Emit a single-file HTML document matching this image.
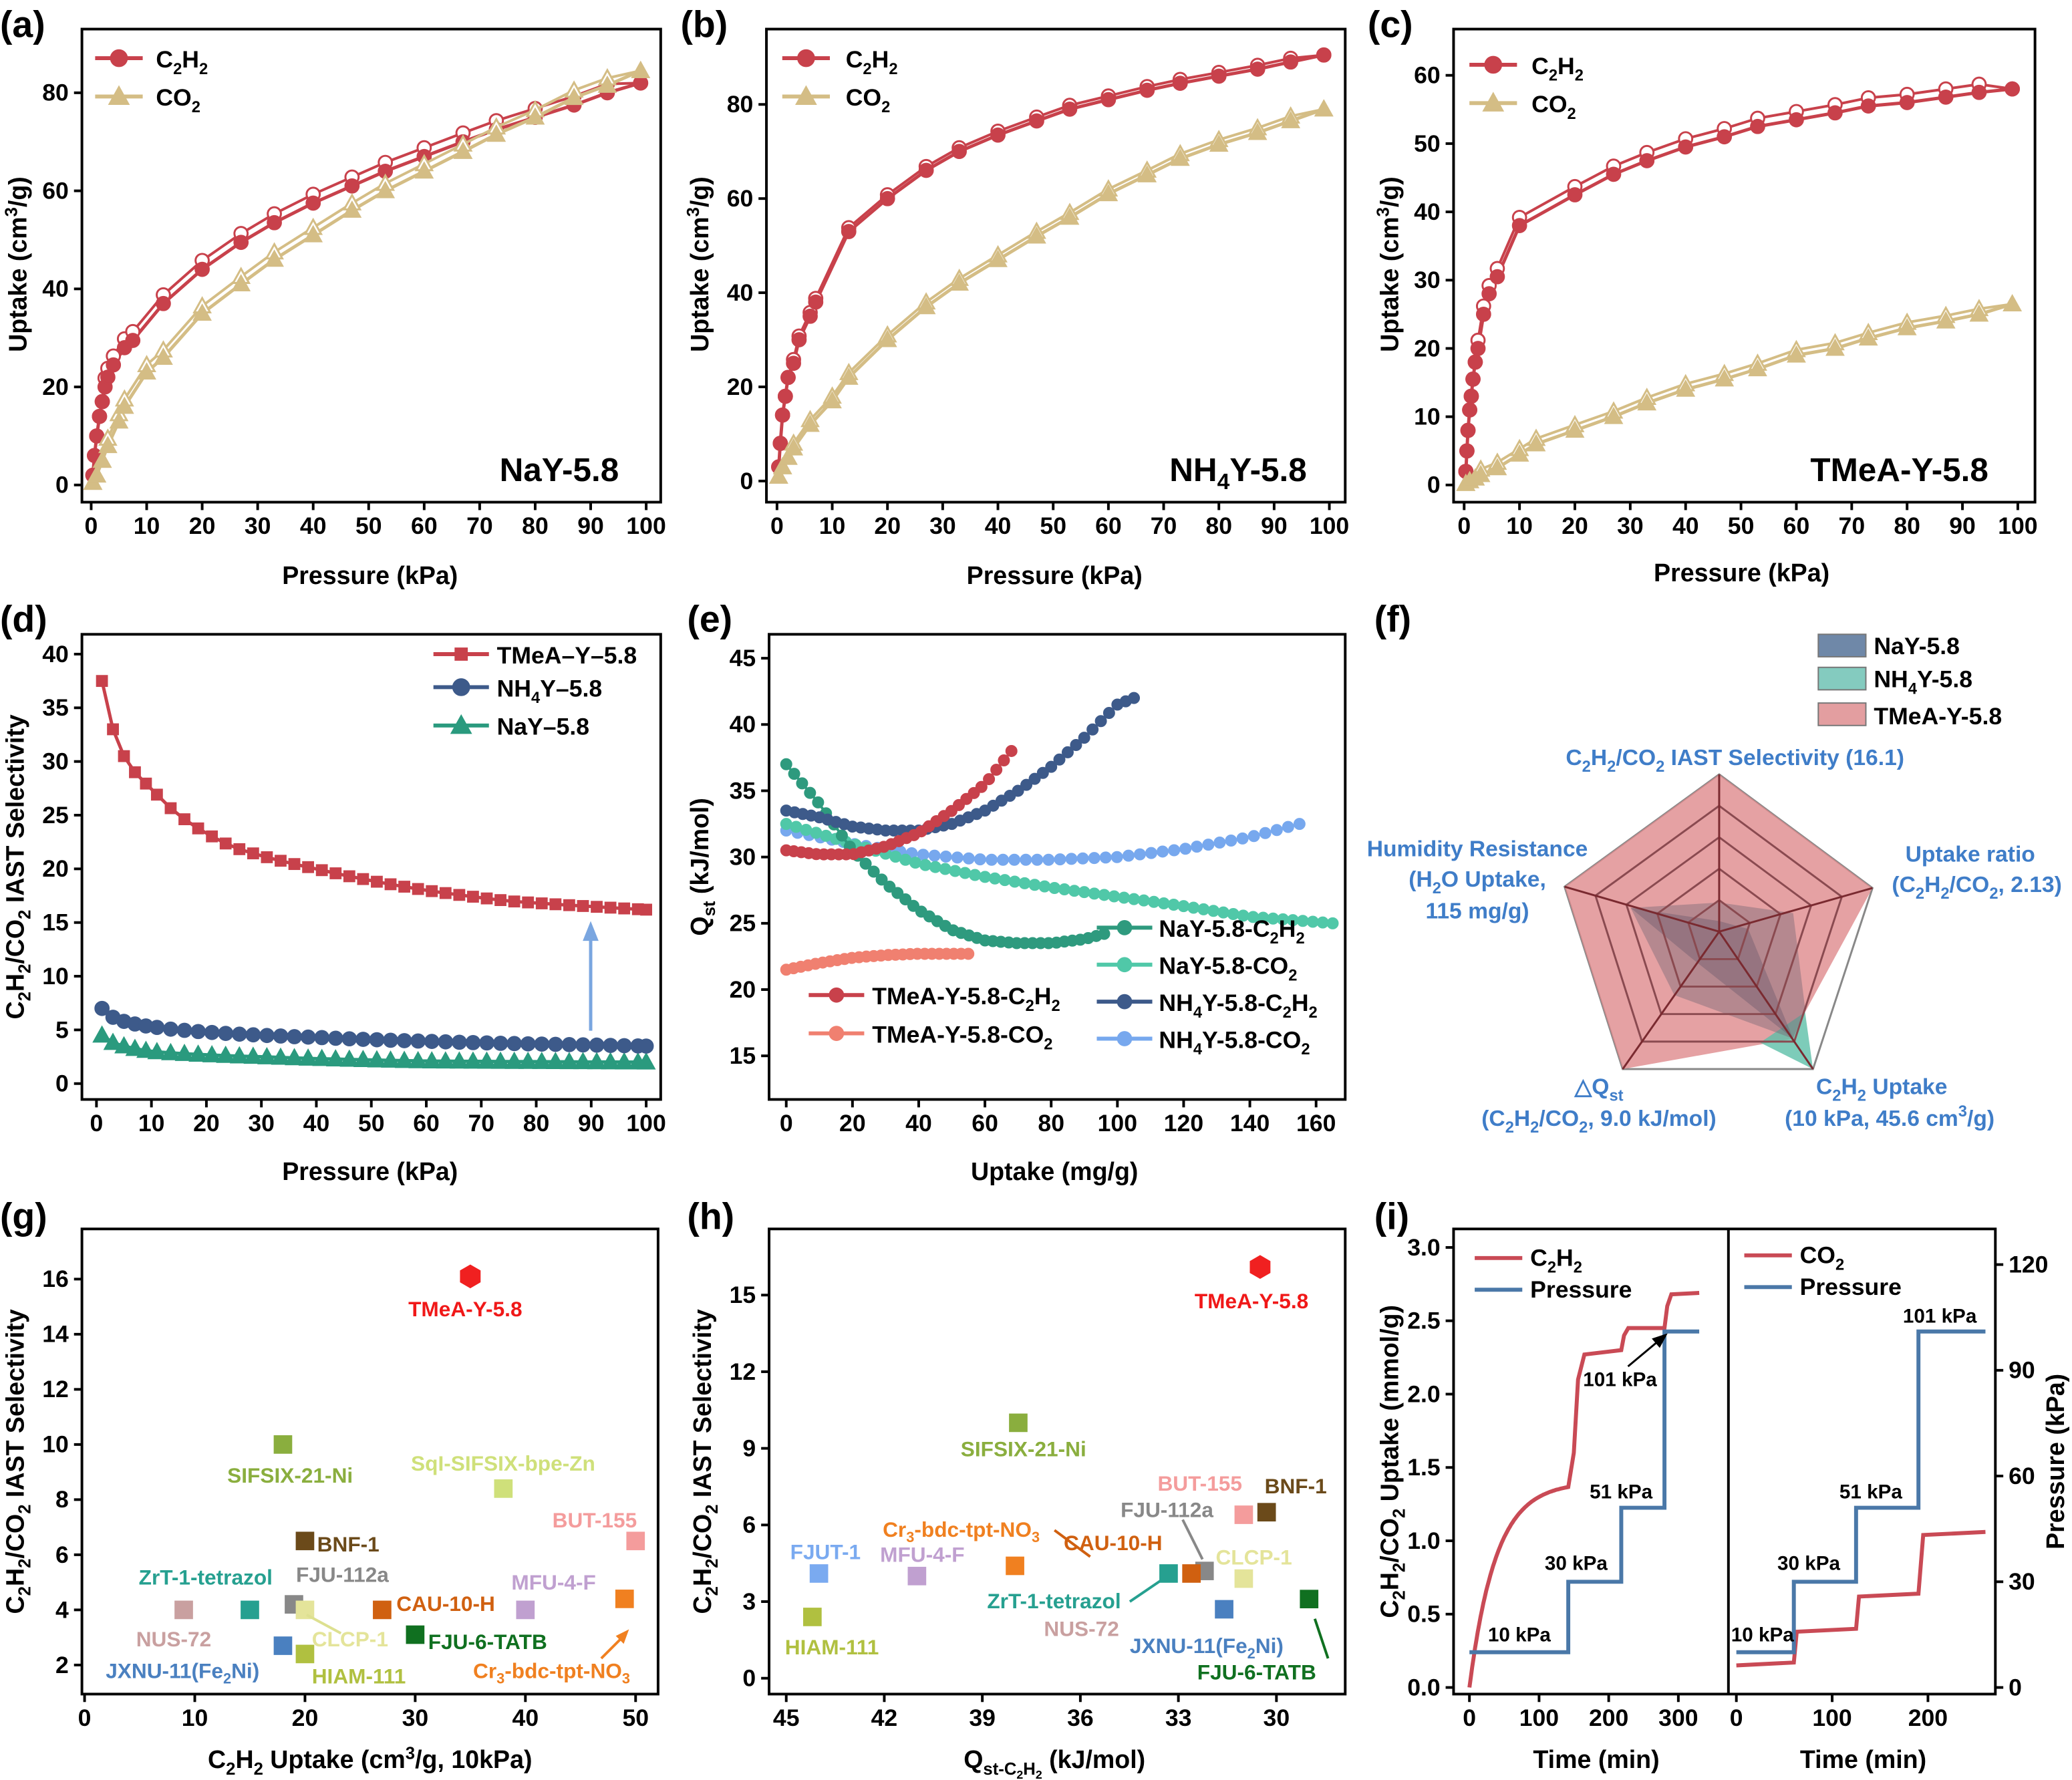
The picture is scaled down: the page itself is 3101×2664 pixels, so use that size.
<!DOCTYPE html>
<html><head><meta charset="utf-8">
<style>
html,body{margin:0;padding:0;background:#fff;}
svg{display:block;}
text{font-family:"Liberation Sans",Arial,sans-serif;font-weight:bold;}
</style></head>
<body>
<svg id="s" width="3101" height="2664" viewBox="0 0 1568 1347" xmlns="http://www.w3.org/2000/svg">
<rect width="1568" height="1347" fill="#fff"/>
<g id="gen"></g>
<g font-size="28">
<text x="0" y="28">(a)</text><text x="515" y="28">(b)</text><text x="1035" y="28">(c)</text>
<text x="0" y="478">(d)</text><text x="520" y="478">(e)</text><text x="1040" y="478">(f)</text>
<text x="0" y="930">(g)</text><text x="520" y="930">(h)</text><text x="1040" y="930">(i)</text>
</g>
<g font-size="19" text-anchor="middle">
<text x="280" y="442">Pressure (kPa)</text>
<text x="798" y="442">Pressure (kPa)</text>
<text x="1318" y="440">Pressure (kPa)</text>
<text x="280" y="893">Pressure (kPa)</text>
<text x="798" y="893">Uptake (mg/g)</text>
<text x="280" y="1338">C<tspan font-size="13" dy="5">2</tspan><tspan dy="-5">H</tspan><tspan font-size="13" dy="5">2</tspan><tspan dy="-5"> Uptake (cm</tspan><tspan font-size="13" dy="-7">3</tspan><tspan dy="7">/g, 10kPa)</tspan></text>
<text x="798" y="1338">Q<tspan font-size="13" dy="5">st-C</tspan><tspan font-size="9" dy="3">2</tspan><tspan font-size="13" dy="-3">H</tspan><tspan font-size="9" dy="3">2</tspan><tspan dy="-8"> (kJ/mol)</tspan></text>
<text x="1208" y="1338">Time (min)</text>
<text x="1410" y="1338">Time (min)</text>
<text transform="translate(20,200) rotate(-90)">Uptake (cm<tspan font-size="13" dy="-7">3</tspan><tspan dy="7">/g)</tspan></text>
<text transform="translate(536,200) rotate(-90)">Uptake (cm<tspan font-size="13" dy="-7">3</tspan><tspan dy="7">/g)</tspan></text>
<text transform="translate(1058,200) rotate(-90)">Uptake (cm<tspan font-size="13" dy="-7">3</tspan><tspan dy="7">/g)</tspan></text>
<text transform="translate(18,656) rotate(-90)">C<tspan font-size="13" dy="5">2</tspan><tspan dy="-5">H</tspan><tspan font-size="13" dy="5">2</tspan><tspan dy="-5">/CO</tspan><tspan font-size="13" dy="5">2</tspan><tspan dy="-5"> IAST Selectivity</tspan></text>
<text transform="translate(536,656) rotate(-90)">Q<tspan font-size="13" dy="5">st</tspan><tspan dy="-5"> (kJ/mol)</tspan></text>
<text transform="translate(18,1106) rotate(-90)">C<tspan font-size="13" dy="5">2</tspan><tspan dy="-5">H</tspan><tspan font-size="13" dy="5">2</tspan><tspan dy="-5">/CO</tspan><tspan font-size="13" dy="5">2</tspan><tspan dy="-5"> IAST Selectivity</tspan></text>
<text transform="translate(538,1106) rotate(-90)">C<tspan font-size="13" dy="5">2</tspan><tspan dy="-5">H</tspan><tspan font-size="13" dy="5">2</tspan><tspan dy="-5">/CO</tspan><tspan font-size="13" dy="5">2</tspan><tspan dy="-5"> IAST Selectivity</tspan></text>
<text transform="translate(1058,1106) rotate(-90)">C<tspan font-size="13" dy="5">2</tspan><tspan dy="-5">H</tspan><tspan font-size="13" dy="5">2</tspan><tspan dy="-5">/CO</tspan><tspan font-size="13" dy="5">2</tspan><tspan dy="-5"> Uptake (mmol/g)</tspan></text>
<text transform="translate(1562,1106) rotate(-90)">Pressure (kPa)</text>
</g>
<g font-size="25">
<text x="378" y="364">NaY-5.8</text>
<text x="885" y="364">NH<tspan font-size="17" dy="6">4</tspan><tspan dy="-6">Y-5.8</tspan></text>
<text x="1370" y="364">TMeA-Y-5.8</text>
</g>
<g font-size="18">
<text x="118" y="51">C<tspan font-size="12" dy="5">2</tspan><tspan dy="-5">H</tspan><tspan font-size="12" dy="5">2</tspan></text>
<text x="118" y="80">CO<tspan font-size="12" dy="5">2</tspan></text>
<text x="640" y="51">C<tspan font-size="12" dy="5">2</tspan><tspan dy="-5">H</tspan><tspan font-size="12" dy="5">2</tspan></text>
<text x="640" y="80">CO<tspan font-size="12" dy="5">2</tspan></text>
<text x="1159" y="56">C<tspan font-size="12" dy="5">2</tspan><tspan dy="-5">H</tspan><tspan font-size="12" dy="5">2</tspan></text>
<text x="1159" y="85">CO<tspan font-size="12" dy="5">2</tspan></text>
<text x="376" y="502">TMeA–Y–5.8</text>
<text x="376" y="527">NH<tspan font-size="12" dy="5">4</tspan><tspan dy="-5">Y–5.8</tspan></text>
<text x="376" y="556">NaY–5.8</text>
<text x="877" y="709">NaY-5.8-C<tspan font-size="12" dy="5">2</tspan><tspan dy="-5">H</tspan><tspan font-size="12" dy="5">2</tspan></text>
<text x="877" y="737">NaY-5.8-CO<tspan font-size="12" dy="5">2</tspan></text>
<text x="877" y="765">NH<tspan font-size="12" dy="5">4</tspan><tspan dy="-5">Y-5.8-C</tspan><tspan font-size="12" dy="5">2</tspan><tspan dy="-5">H</tspan><tspan font-size="12" dy="5">2</tspan></text>
<text x="877" y="793">NH<tspan font-size="12" dy="5">4</tspan><tspan dy="-5">Y-5.8-CO</tspan><tspan font-size="12" dy="5">2</tspan></text>
<text x="660" y="760">TMeA-Y-5.8-C<tspan font-size="12" dy="5">2</tspan><tspan dy="-5">H</tspan><tspan font-size="12" dy="5">2</tspan></text>
<text x="660" y="789">TMeA-Y-5.8-CO<tspan font-size="12" dy="5">2</tspan></text>
<text x="1418" y="495">NaY-5.8</text>
<text x="1418" y="520">NH<tspan font-size="12" dy="5">4</tspan><tspan dy="-5">Y-5.8</tspan></text>
<text x="1418" y="548">TMeA-Y-5.8</text>
<text x="1158" y="958">C<tspan font-size="12" dy="5">2</tspan><tspan dy="-5">H</tspan><tspan font-size="12" dy="5">2</tspan></text>
<text x="1158" y="982">Pressure</text>
<text x="1362" y="956">CO<tspan font-size="12" dy="5">2</tspan></text>
<text x="1362" y="980">Pressure</text>
</g>
<g fill="#fff" stroke="#777"><rect x="1376" y="480" width="36" height="17" fill="#6f88a8"/><rect x="1376" y="505" width="36" height="17" fill="#84cbbf"/><rect x="1376" y="532" width="36" height="17" fill="#e39ea0"/></g>
<g font-size="17" fill="#3f7dc8" text-anchor="middle">
<text x="1313" y="579">C<tspan font-size="12" dy="5">2</tspan><tspan dy="-5">H</tspan><tspan font-size="12" dy="5">2</tspan><tspan dy="-5">/CO</tspan><tspan font-size="12" dy="5">2</tspan><tspan dy="-5"> IAST Selectivity (16.1)</tspan></text>
<text x="1118" y="648">Humidity Resistance</text>
<text x="1118" y="671">(H<tspan font-size="12" dy="5">2</tspan><tspan dy="-5">O Uptake,</tspan></text>
<text x="1118" y="695">115 mg/g)</text>
<text x="1491" y="652">Uptake ratio</text>
<text x="1496" y="675">(C<tspan font-size="12" dy="5">2</tspan><tspan dy="-5">H</tspan><tspan font-size="12" dy="5">2</tspan><tspan dy="-5">/CO</tspan><tspan font-size="12" dy="5">2</tspan><tspan dy="-5">, 2.13)</tspan></text>
<text x="1210" y="828">△Q<tspan font-size="12" dy="5">st</tspan></text>
<text x="1210" y="852">(C<tspan font-size="12" dy="5">2</tspan><tspan dy="-5">H</tspan><tspan font-size="12" dy="5">2</tspan><tspan dy="-5">/CO</tspan><tspan font-size="12" dy="5">2</tspan><tspan dy="-5">, 9.0 kJ/mol)</tspan></text>
<text x="1424" y="828">C<tspan font-size="12" dy="5">2</tspan><tspan dy="-5">H</tspan><tspan font-size="12" dy="5">2</tspan><tspan dy="-5"> Uptake</tspan></text>
<text x="1430" y="852">(10 kPa, 45.6 cm<tspan font-size="12" dy="-7">3</tspan><tspan dy="7">/g)</tspan></text>
</g>
<g font-size="16">
<text x="309" y="996" fill="#f01818">TMeA-Y-5.8</text>
<text x="172" y="1122" fill="#8aae3e">SIFSIX-21-Ni</text>
<text x="311" y="1113" fill="#cfe07a">SqI-SIFSIX-bpe-Zn</text>
<text x="418" y="1156" fill="#f49c9c">BUT-155</text>
<text x="240" y="1174" fill="#6b4a1a">BNF-1</text>
<text x="105" y="1199" fill="#26a090">ZrT-1-tetrazol</text>
<text x="224" y="1197" fill="#888">FJU-112a</text>
<text x="103" y="1246" fill="#c9a0a0">NUS-72</text>
<text x="80" y="1270" fill="#4a80c0">JXNU-11(Fe<tspan font-size="11" dy="4">2</tspan><tspan dy="-4">Ni)</tspan></text>
<text x="236" y="1246" fill="#e4e49a">CLCP-1</text>
<text x="236" y="1274" fill="#b0c040">HIAM-111</text>
<text x="300" y="1219" fill="#d06010">CAU-10-H</text>
<text x="324" y="1248" fill="#107020">FJU-6-TATB</text>
<text x="387" y="1203" fill="#c0a0d0">MFU-4-F</text>
<text x="358" y="1270" fill="#f08020">Cr<tspan font-size="11" dy="4">3</tspan><tspan dy="-4">-bdc-tpt-NO</tspan><tspan font-size="11" dy="4">3</tspan></text>
</g>
<g font-size="16">
<text x="904" y="990" fill="#f01818">TMeA-Y-5.8</text>
<text x="727" y="1102" fill="#8aae3e">SIFSIX-21-Ni</text>
<text x="876" y="1128" fill="#f49c9c">BUT-155</text>
<text x="957" y="1130" fill="#6b4a1a">BNF-1</text>
<text x="848" y="1148" fill="#888">FJU-112a</text>
<text x="668" y="1163" fill="#f08020">Cr<tspan font-size="11" dy="4">3</tspan><tspan dy="-4">-bdc-tpt-NO</tspan><tspan font-size="11" dy="4">3</tspan></text>
<text x="805" y="1173" fill="#d06010">CAU-10-H</text>
<text x="920" y="1184" fill="#e4e49a">CLCP-1</text>
<text x="598" y="1180" fill="#7aaaf0">FJUT-1</text>
<text x="666" y="1182" fill="#c0a0d0">MFU-4-F</text>
<text x="747" y="1217" fill="#26a090">ZrT-1-tetrazol</text>
<text x="790" y="1238" fill="#c9a0a0">NUS-72</text>
<text x="855" y="1251" fill="#4a80c0">JXNU-11(Fe<tspan font-size="11" dy="4">2</tspan><tspan dy="-4">Ni)</tspan></text>
<text x="906" y="1271" fill="#107020">FJU-6-TATB</text>
<text x="594" y="1252" fill="#b0c040">HIAM-111</text>
</g>
<g font-size="15">
<text x="1126" y="1242">10 kPa</text><text x="1169" y="1188">30 kPa</text><text x="1203" y="1134">51 kPa</text><text x="1198" y="1049">101 kPa</text>
<text x="1310" y="1242">10 kPa</text><text x="1345" y="1188">30 kPa</text><text x="1392" y="1134">51 kPa</text><text x="1440" y="1001">101 kPa</text>
</g>
</svg>
<script>
(function(){
var G=document.getElementById('gen');var h='';
var red='#c8414b',tan='#d4bd85';
function box(x1,y1,x2,y2){h+='<rect x="'+x1+'" y="'+y1+'" width="'+(x2-x1)+'" height="'+(y2-y1)+'" fill="none" stroke="#000" stroke-width="2"/>';}
function xt(vals,f,yb){vals.forEach(function(v){var x=f(v);h+='<line x1="'+x+'" y1="'+yb+'" x2="'+x+'" y2="'+(yb+6)+'" stroke="#000" stroke-width="2"/><text x="'+x+'" y="'+(yb+24)+'" font-size="18" text-anchor="middle">'+v+'</text>';});}
function yt(vals,f,xb,labs){vals.forEach(function(v,i){var y=f(v);var l=labs?labs[i]:v;h+='<line x1="'+(xb-6)+'" y1="'+y+'" x2="'+xb+'" y2="'+y+'" stroke="#000" stroke-width="2"/><text x="'+(xb-10)+'" y="'+(y+6)+'" font-size="18" text-anchor="end">'+l+'</text>';});}
function rng(a,b,s){var r=[];for(var v=a;v<=b+1e-9;v+=s)r.push(+v.toFixed(2));return r;}
function line(pts,c,w){h+='<polyline points="'+pts.map(function(p){return p[0].toFixed(1)+','+p[1].toFixed(1);}).join(' ')+'" fill="none" stroke="'+c+'" stroke-width="'+(w||2.5)+'"/>';}
function circ(pts,c,r,fill){pts.forEach(function(p){h+='<circle cx="'+p[0].toFixed(1)+'" cy="'+p[1].toFixed(1)+'" r="'+r+'" fill="'+(fill||c)+'" stroke="'+c+'" stroke-width="1.5"/>';});}
function tri(pts,c,s,fill){pts.forEach(function(p){var x=p[0],y=p[1];h+='<polygon points="'+x+','+(y-s)+' '+(x-s)+','+(y+s*0.8)+' '+(x+s)+','+(y+s*0.8)+'" fill="'+(fill||c)+'" stroke="'+c+'" stroke-width="1.5"/>';});}
function sq(pts,c,s){pts.forEach(function(p){h+='<rect x="'+(p[0]-s)+'" y="'+(p[1]-s)+'" width="'+(2*s)+'" height="'+(2*s)+'" fill="'+c+'"/>';});}
function iso(data,fx,fy,c,kind,off){var a=data.map(function(p){return [fx(p[0]),fy(p[1])];});var d=data.map(function(p){return [fx(p[0]),fy(p[1]+((p[0]>2&&p[0]<97)?off:0))];});line(d,c,2);line(a,c,2.5);if(kind==='c'){circ(d,c,5,'#fff');circ(a,c,5);}else{tri(d,c,6,'#fff');tri(a,c,6);}}
(function(){var fx=function(v){return 69+4.2*v},fy=function(v){return 367-3.71*v};box(62,22,500,380);xt(rng(0,100,10),fx,380);yt([0,20,40,60,80],fy,62);
iso([[0.3,2],[0.6,6],[1,10],[1.5,14],[2,17],[2.5,20],[3,22],[4,24.5],[6,28],[7.5,29.5],[13,37],[20,44],[27,49.5],[33,53.5],[40,57.5],[47,61],[53,64],[60,67],[67,70],[73,72.5],[80,75],[87,77.5],[93,80],[99,82]],fx,fy,red,'c',1.8);
iso([[0.3,0.5],[1,2],[2,5],[3,8],[5,13],[6,16],[10,23],[13,26],[20,35],[27,41],[33,46],[40,51],[47,56],[53,60],[60,64],[67,68],[73,71.5],[80,75],[87,79],[93,81.5],[99,84.5]],fx,fy,tan,'t',1.5);})();
(function(){var fx=function(v){return 588+4.18*v},fy=function(v){return 364-3.5625*v};box(580,22,1018,380);xt(rng(0,100,10),fx,380);yt([0,20,40,60,80],fy,580);
iso([[0.3,3],[0.6,8],[1,14],[1.5,18],[2,22],[3,25],[4,30],[6,35],[7,38],[13,53],[20,60],[27,66],[33,70],[40,73.5],[47,76.5],[53,79],[60,81],[67,83],[73,84.5],[80,86],[87,87.5],[93,89],[99,90.5]],fx,fy,red,'c',0.8);
iso([[0.3,1],[1,3],[2,5],[3,7],[6,12],[10,17],[13,22],[20,30],[27,37],[33,42],[40,47],[47,52],[53,56],[60,61],[67,65],[73,68.5],[80,71.5],[87,74],[93,76.5],[99,79]],fx,fy,tan,'t',1);})();
(function(){var fx=function(v){return 1108+4.19*v},fy=function(v){return 367-5.167*v};box(1100,22,1540,380);xt(rng(0,100,10),fx,380);yt(rng(0,60,10),fy,1100);
iso([[0.3,2],[0.5,5],[0.7,8],[1,11],[1.3,13],[1.6,15.5],[2,18],[2.5,20],[3.5,25],[4.5,28],[6,30.5],[10,38],[20,42.5],[27,45.5],[33,47.5],[40,49.5],[47,51],[53,52.5],[60,53.5],[67,54.5],[73,55.5],[80,56],[87,56.8],[93,57.5],[99,58]],fx,fy,red,'c',1.2);
iso([[0.3,0.2],[1,0.6],[2,1],[3,1.5],[6,2.5],[10,4.5],[13,6],[20,8],[27,10],[33,12],[40,14],[47,15.5],[53,17],[60,19],[67,20],[73,21.5],[80,23],[87,24],[93,25],[99,26.5]],fx,fy,tan,'t',0.8);})();
[[44,73,72],[44,73,592],[49,78,1112]].forEach(function(q){var y1=q[0],y2=q[1],x=q[2];line([[x,y1],[x+36,y1]],red,3);circ([[x+18,y1]],red,6);line([[x,y2],[x+36,y2]],tan,3);tri([[x+18,y2]],tan,7);});
function interpLog(pts,P){var l=Math.log(P);for(var i=0;i<pts.length-1;i++){var a=Math.log(pts[i][0]),b=Math.log(pts[i+1][0]);if(l<=b){var t=(l-a)/(b-a);return pts[i][1]+t*(pts[i+1][1]-pts[i][1]);}}return pts[pts.length-1][1];}
(function(){var fx=function(v){return 73+4.16*v},fy=function(v){return 820-8.125*v};box(62,480,500,832);xt(rng(0,100,10),fx,832);yt(rng(0,40,5),fy,62);
var T=[[1,37.5],[3,33],[5,30.5],[7,29],[10,27.5],[15,25],[25,22],[40,20],[60,18],[75,17],[100,16.2]],N=[[1,7],[5,5.8],[15,5],[40,4.3],[70,3.8],[100,3.5]],A=[[1,4.5],[5,3.5],[10,3],[30,2.5],[60,2.1],[100,2]];
var ps=[1,3,5,7,9];for(var p=11;p<=100;p+=2.5)ps.push(p);if(ps[ps.length-1]<100)ps.push(100);
var mk=function(arr){return ps.map(function(p){return [fx(p),fy(interpLog(arr,p))];});};
line(mk(A),'#2a9a7e');tri(mk(A),'#2a9a7e',6);line(mk(N),'#3d5a8a');circ(mk(N),'#3d5a8a',5);line(mk(T),red);sq(mk(T),red,4.5);
line([[328,495],[370,495]],red,3);sq([[349,495]],red,5);line([[328,520],[370,520]],'#3d5a8a',3);circ([[349,520]],'#3d5a8a',6);line([[328,549],[370,549]],'#2a9a7e',3);tri([[349,549]],'#2a9a7e',7);
h+='<line x1="447" y1="780" x2="447" y2="708" stroke="#7aa6e0" stroke-width="2.5"/><polygon points="447,697 441,712 453,712" fill="#7aa6e0"/>';})();
(function(){var fx=function(v){return 595+2.506*v},fy=function(v){return 799-10.03*(v-15)};box(582,480,1018,832);xt(rng(0,160,20),fx,832);yt(rng(15,45,5),fy,582);
function cur(pts,c,n){var out=[];var xmax=pts[pts.length-1][0];for(var i=0;i<=n;i++){var x=xmax*i/n;var y=pts[0][1];for(var j=0;j<pts.length-1;j++){if(x>=pts[j][0]&&x<=pts[j+1][0]){var t=(x-pts[j][0])/(pts[j+1][0]-pts[j][0]);y=pts[j][1]+t*(pts[j+1][1]-pts[j][1]);}}out.push([fx(x),fy(y)]);}line(out,c,2);circ(out,c,3.8);}
cur([[0,32],[20,31],[40,30.2],[60,29.8],[80,29.8],[100,30],[120,30.6],[140,31.5],[155,32.5]],'#77a8ee',45);
cur([[0,32.5],[20,31],[40,29.5],[60,28.5],[80,27.7],[100,27],[120,26.3],[140,25.5],[165,25]],'#50c8a8',55);
cur([[0,37],[10,34],[20,30.5],[30,28],[40,26],[50,24.5],[60,23.7],[70,23.5],[80,23.5],[90,23.8],[96,24.2]],'#2e9a7e',40);
cur([[0,33.5],[10,33],[20,32.3],[30,32],[40,32],[50,32.5],[60,33.5],[70,35],[80,36.8],[90,39],[100,41.5],[105,42]],'#3d5a8a',42);
cur([[0,30.5],[10,30.2],[20,30.2],[30,30.8],[40,31.8],[50,33.5],[60,35.5],[68,38]],red,30);
cur([[0,21.5],[10,22],[20,22.4],[30,22.6],[40,22.7],[55,22.7]],'#f08070',25);
[[702,'#2e9a7e'],[730,'#50c8a8'],[758,'#3d5a8a'],[786,'#77a8ee']].forEach(function(q){line([[830,q[0]],[872,q[0]]],q[1],3);circ([[851,q[0]]],q[1],5);});
[[753,red],[782,'#f08070']].forEach(function(q){line([[612,q[0]],[654,q[0]]],q[1],3);circ([[633,q[0]]],q[1],5);});})();
(function(){var cx=1301,cy=705;var V=[[1301,586],[1417,672],[1372,809],[1228,809],[1184,671]];
var P=function(s){return V.map(function(v){return [cx+(v[0]-cx)*s,cy+(v[1]-cy)*s];});};
var pg=function(pts,f,o,st){h+='<polygon points="'+pts.map(function(p){return p[0].toFixed(1)+','+p[1].toFixed(1);}).join(' ')+'" fill="'+f+'" fill-opacity="'+o+'" stroke="'+(st||'none')+'" stroke-width="1.5"/>';};
pg(P(1),'none',0,'#888');
pg([[1301,586],[1417,672],[1366,766],[1357,786],[1228,809],[1184,671]],'#de8a8c',0.8);
pg([[1332,789],[1372,809],[1366,766]],'#5cbfa8',0.8);
pg([[1234,687],[1301,683],[1357,691],[1366,763],[1357,786],[1267,753]],'#7a6a78',0.45);
pg([[1234,687],[1301,697],[1323,703],[1357,786],[1280,725]],'#6a5868',0.4);
[0.2,0.4,0.6,0.8].forEach(function(s){pg(P(s),'none',0,'#8a4a50');});
V.forEach(function(v){h+='<line x1="'+cx+'" y1="'+cy+'" x2="'+v[0]+'" y2="'+v[1]+'" stroke="#7a2a30" stroke-width="1.5"/>';});})();
function hex(x,y,r,c){var p=[];for(var i=0;i<6;i++){var a=Math.PI/3*i+Math.PI/6;p.push((x+r*Math.cos(a)).toFixed(1)+','+(y+r*Math.sin(a)).toFixed(1));}h+='<polygon points="'+p.join(' ')+'" fill="'+c+'"/>';}
(function(){var fx=function(v){return 64+8.34*v},fy=function(v){return 1260-20.86*(v-2)};box(62,930,498,1282);xt(rng(0,50,10),fx,1282);yt(rng(2,16,2),fy,62);
hex(fx(35),fy(16.1),9,'#f02020');
[[18,10,'#8aae3e'],[38,8.4,'#cfe07a'],[50,6.5,'#f49c9c'],[20,6.5,'#6b4a1a'],[15,4,'#26a090'],[19,4.2,'#888'],[9,4,'#c9a0a0'],[18,2.7,'#4a80c0'],[20,4,'#e4e49a'],[20,2.4,'#b0c040'],[27,4,'#d06010'],[30,3.1,'#107020'],[40,4,'#c0a0d0'],[49,4.4,'#f08020']].forEach(function(q){sq([[fx(q[0]),fy(q[1])]],q[2],7);});
h+='<line x1="258" y1="1236" x2="232" y2="1222" stroke="#dde090" stroke-width="2"/><line x1="455" y1="1255" x2="472" y2="1238" stroke="#f08020" stroke-width="2"/><polygon points="476,1233 466,1238 472,1244" fill="#f08020"/>';})();
(function(){var fx=function(v){return 595-24.73*(v-45)},fy=function(v){return 1270-19.33*v};box(582,930,1018,1282);xt([45,42,39,36,33,30],fx,1282);yt([0,3,6,9,12,15],fy,582);
hex(fx(30.5),fy(16.1),9,'#f02020');
[[37.9,10,'#8aae3e'],[31,6.4,'#f49c9c'],[30.3,6.5,'#6b4a1a'],[32.2,4.2,'#888'],[31,3.9,'#e4e49a'],[32.6,4.1,'#d06010'],[38,4.4,'#f08020'],[41,4,'#c0a0d0'],[44,4.1,'#7aaaf0'],[44.2,2.4,'#b0c040'],[33.3,4.1,'#26a090'],[31.6,2.7,'#4a80c0'],[29,3.1,'#107020']].forEach(function(q){sq([[fx(q[0]),fy(q[1])]],q[2],7);});
h+='<line x1="798" y1="1158" x2="825" y2="1178" stroke="#d06010" stroke-width="2"/><line x1="855" y1="1212" x2="880" y2="1195" stroke="#26a090" stroke-width="2"/><line x1="1005" y1="1255" x2="995" y2="1225" stroke="#107020" stroke-width="2"/><line x1="895" y1="1150" x2="910" y2="1180" stroke="#888" stroke-width="2"/>';})();
(function(){box(1100,930,1510,1282);h+='<line x1="1308" y1="930" x2="1308" y2="1282" stroke="#000" stroke-width="2"/>';
var fy=function(v){return 1277-111*v},fp=function(v){return 1277-2.667*v},fxl=function(t){return 1112+0.527*t},fxr=function(t){return 1314+0.725*t};
xt([0,100,200,300],fxl,1282);xt([0,100,200],fxr,1282);yt([0,0.5,1,1.5,2,2.5,3],fy,1100,['0.0','0.5','1.0','1.5','2.0','2.5','3.0']);
[0,30,60,90,120].forEach(function(v){var y=fp(v);h+='<line x1="1510" y1="'+y+'" x2="1516" y2="'+y+'" stroke="#000" stroke-width="2"/><text x="1520" y="'+(y+6)+'" font-size="18">'+v+'</text>';});
var blue='#4a78a8';
var u=[];for(var t=0;t<=142;t+=2)u.push([t,1.4*(1-Math.exp(-t/38))]);
u.push([150,1.6],[156,2.1],[165,2.27],[218,2.3],[222,2.4],[228,2.45],[280,2.45],[284,2.6],[290,2.68],[330,2.69]);
var m=function(f1,f2){return function(p){return [f1(p[0]),f2(p[1])];};};
line(u.map(m(fxl,fy)),'#c94a55',3);
line([[0,10],[142,10],[142,30],[218,30],[218,51],[280,51],[280,101],[330,101]].map(m(fxl,fp)),blue,3);
line([[0,0.15],[60,0.17],[63,0.38],[125,0.4],[128,0.62],[190,0.64],[195,1.04],[260,1.06]].map(m(fxr,fy)),'#c94a55',3);
line([[0,10],[60,10],[60,30],[125,30],[125,51],[190,51],[190,101],[260,101]].map(m(fxr,fp)),blue,3);
line([[1116,952],[1152,952]],'#c94a55',3);line([[1116,976],[1152,976]],blue,3);line([[1320,950],[1356,950]],'#c94a55',3);line([[1320,974],[1356,974]],blue,3);
h+='<line x1="1232" y1="1034" x2="1256" y2="1014" stroke="#000" stroke-width="1.5"/><polygon points="1262,1009 1250,1013 1256,1020"/>';})();
G.innerHTML=h;
})();
</script>
</body></html>
